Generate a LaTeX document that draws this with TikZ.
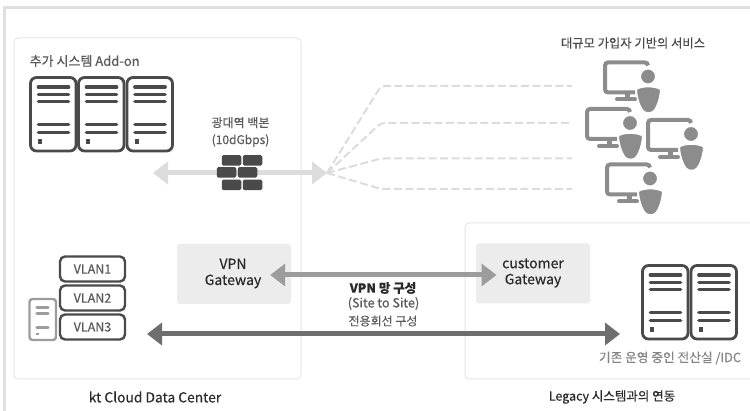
\documentclass[tikz,border=0pt]{standalone}
\usepackage{fontspec}
\setmainfont[RawFeature={embolden=0.35}]{Noto Sans CJK KR}
\usetikzlibrary{arrows.meta}
\definecolor{frameC}{HTML}{E0E0E0}
\definecolor{panelC}{HTML}{E6E6E6}
\definecolor{darkC}{HTML}{4A4A4A}
\definecolor{midC}{HTML}{6E6E6E}
\definecolor{softC}{HTML}{9C9C9C}
\definecolor{iconC}{HTML}{8C8C8C}
\definecolor{lightC}{HTML}{DCDCDC}
\definecolor{boxC}{HTML}{ECECEC}
\definecolor{textC}{HTML}{5A5A5A}
\definecolor{blackC}{HTML}{2A2A2A}
\tikzset{
 panel/.style={draw=panelC,line width=1pt,rounded corners=4pt,fill=white},
 gw/.style={fill=boxC,draw=none,rounded corners=3pt,minimum width=114pt,minimum height=60pt,inner sep=0pt},
 gwtext/.style={font=\fontsize{14}{16}\selectfont,text=blackC,align=center,inner sep=0pt},
 lab/.style={font=\fontsize{13}{15}\selectfont,text=textC,inner sep=0pt,align=center},
 caption/.style={font=\fontsize{13.8}{15}\selectfont,text=blackC,inner sep=0pt},
 vlan/.style={draw=darkC,line width=2.4pt,rounded corners=5pt,minimum width=65pt,minimum height=25pt,inner sep=0pt,text=textC,font=\fontsize{12.5}{15}\selectfont},
 brick/.style={fill=darkC,draw=none,rounded corners=1.5pt,minimum width=19.5pt,minimum height=10.5pt,inner sep=0pt},
 fat/.style={line width=5pt,{Triangle[length=15pt,width=22pt]}-{Triangle[length=15pt,width=22pt]}},
 dashline/.style={draw=lightC,line width=2pt,dash pattern=on 8pt off 3.5pt},
 pics/rack/.style={code={
  \draw[darkC,line width=2.8pt,rounded corners=6pt] (0,0) rectangle (45.5,73.5);
  \foreach \yy in {9.5,17,24,47,55}{\draw[darkC,line width=3.8pt,line cap=round] (8,\yy) -- (38,\yy);}
  \fill[darkC] (7.5,62) rectangle (11.5,66.5);
 }},
 pics/user/.style={code={
  \draw[iconC,line width=4pt,rounded corners=3pt] (45,5) -- (45,2) -- (2,2) -- (2,32) -- (32,32);
  \draw[iconC,line width=4pt,line cap=round] (14,39) -- (32,39);
  \fill[iconC] (22,32) rectangle (27,39);
  \fill[iconC,draw=white,line width=1pt] (45,16) circle (7.5);
  \fill[iconC,draw=white,line width=1pt] (33.5,29) .. controls (38,25.5) and (52,25.5) .. (57.5,29) .. controls (57,38) and (54,46) .. (51,50) .. controls (48,53) and (43,53) .. (40,50) .. controls (37,46) and (34,38) .. (33.5,29) -- cycle;
 }}
}
\begin{document}
\begin{tikzpicture}[x=1pt,y=-1pt]
\useasboundingbox (0,0) rectangle (750,411);
% outer frame
\draw[frameC,line width=2.4pt] (750,7.5) -- (4.5,7.5) -- (4.5,411);
% panels
\node[panel,minimum width=287pt,minimum height=341pt,inner sep=0pt] (cloud) at (157.5,208.5) {};
\draw[panel] (750,223) -- (465,223) -- (465,379) -- (750,379);
% gateways
\node[gw] (vpngw) at (234,274) {};
\node[gwtext] (vpntxt) at (233,273.5) {VPN\\Gateway};
\node[gw] (custgw) at (533,273.5) {};
\node[gwtext] (custtxt) at (533,273) {customer\\Gateway};
% servers
\pic at (30.5,77.5) {rack};
\pic at (78.5,77.5) {rack};
\pic at (127,77.5) {rack};
\pic at (642.5,265.5) {rack};
\pic at (691,265.5) {rack};
% labels
\node[lab,anchor=west] (addon) at (29.5,61) {추가 시스템 Add-on};
\node[lab,font=\fontsize{12}{17}\selectfont] (backbone) at (240.5,132) {광대역 백본\\(10dGbps)};
\node[lab,font=\fontsize{12.3}{14}\selectfont,text=darkC] (svc) at (633,43) {대규모 가입자 기반의 서비스};
\node[lab,font=\fontsize{12.7}{14}\selectfont,text=softC!85!black] (idc) at (670,358) {기존 운영 중인 전산실 /IDC};
\node[caption] (dc) at (155,397) {kt Cloud Data Center};
\node[caption,font=\fontsize{12.5}{15}\selectfont] (leg) at (612,397) {Legacy 시스템과의 연동};
% fan lines
\coordinate (hub) at (327,173);
\coordinate (c1) at (381,86); \coordinate (c2) at (381,123);
\coordinate (c3) at (381,158.5); \coordinate (c4) at (381,189);
\coordinate (e1) at (572,86); \coordinate (e2) at (572,123);
\coordinate (e3) at (572,158.5); \coordinate (e4) at (572,189);
\foreach \n in {1,2,3,4}{\draw[dashline,rounded corners=4pt] (hub) -- (c\n) -- (e\n);}
% backbone arrow
\coordinate (bbL) at (153,173);
\draw[fat,lightC] (bbL) -- (hub);
% firewall
\node[brick] (b1) at (231.5,160.5) {};
\node[brick] (b2) at (252.5,160.5) {};
\node[brick] (b3) at (226.5,172.5) {};
\node[brick] (b4) at (247.5,172.5) {};
\node[brick] (b5) at (231.5,185) {};
\node[brick] (b6) at (252.5,185) {};
% users
\pic at (603,60.5) {user};
\pic at (585,107) {user};
\pic at (646,118) {user};
\pic at (605,162.5) {user};
% VLAN
\node[vlan] (v1) at (92.5,269) {VLAN1};
\node[vlan] (v2) at (92.5,298) {VLAN2};
\node[vlan] (v3) at (92.5,327) {VLAN3};
\draw[softC,line width=2.4pt,rounded corners=3pt] (29.5,299) rectangle (56,340);
\draw[softC,line width=3.4pt,line cap=round] (37,307.5) -- (48,307.5);
\draw[softC,line width=3.4pt,line cap=round] (37,313.5) -- (48,313.5);
\draw[softC,line width=3.4pt,line cap=round] (37,327.5) -- (48,327.5);
\fill[softC] (36,333) rectangle (38.5,335.5);
% arrows
\draw[fat,softC] (vpngw.east) ++(-21,1) coordinate (vpnL) -- (496.5,275) coordinate (custR);
\coordinate (lanL) at (147,334);
\coordinate (srvR) at (620,334);
\draw[fat,midC] (lanL) -- (srvR);
% centre labels
\node[lab,font=\fontsize{12.5}{15}\selectfont\bfseries,text=blackC] (vpnnet) at (383,288) {VPN 망 구성};
\node[lab,font=\fontsize{12.6}{14}\selectfont] (sts) at (383.5,303.5) {(Site to Site)};
\node[lab,font=\fontsize{12}{14}\selectfont] (lease) at (383,321) {전용회선 구성};
\end{tikzpicture}
\end{document}
